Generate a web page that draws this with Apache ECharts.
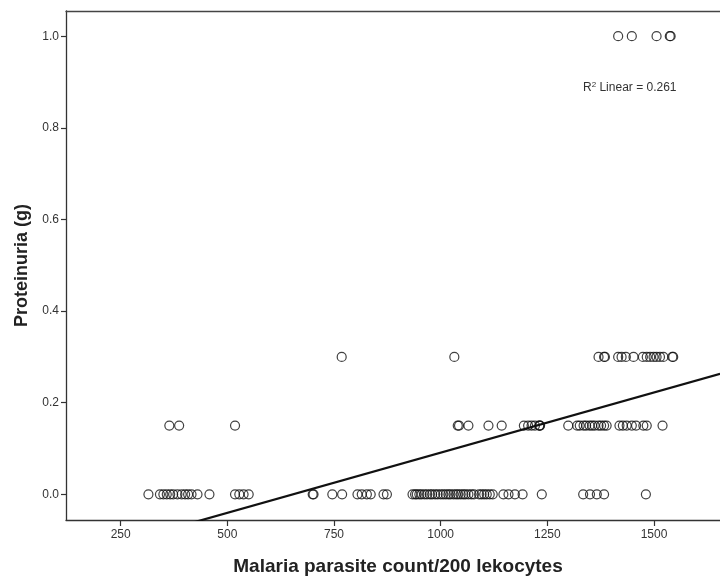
<!DOCTYPE html>
<html>
<head>
<meta charset="utf-8">
<script src="https://cdn.jsdelivr.net/npm/echarts@6/dist/echarts.min.js"></script>
<style>
html,body{margin:0;padding:0;background:#fff;}
#chart{width:720px;height:581px;}
</style>
</head>
<body>
<div id="chart"></div>
<script>
// Observed points, grouped by proteinuria level (g)
var x_p000 = [315, 342, 350, 358, 366, 373, 383, 393, 401, 408, 416, 430, 458,
  518, 528, 538, 550, 700, 702, 746, 769, 805, 815, 827, 836, 866, 874,
  934, 940, 944, 950, 955, 962, 968, 975, 980, 987, 993, 1000, 1006, 1012, 1018, 1023,
  1030, 1036, 1041, 1047, 1053, 1058, 1065, 1072, 1078, 1090, 1096, 1102, 1108, 1115, 1122,
  1147, 1159, 1174, 1192, 1237, 1334, 1350, 1366, 1383, 1481];
var x_p015 = [364, 387, 518, 1040, 1043, 1065, 1112, 1143, 1195, 1205, 1213, 1221, 1231, 1232, 1233,
  1299, 1320, 1326, 1335, 1341, 1349, 1355, 1361, 1370, 1376, 1383, 1389,
  1419, 1427, 1436, 1448, 1458, 1475, 1483, 1520];
var x_p030 = [768, 1032, 1370, 1383, 1385, 1416, 1424, 1434, 1452, 1474, 1483, 1491, 1499, 1506, 1514, 1522, 1543, 1545];
var x_p100 = [1416, 1448, 1506, 1537, 1539];
var levels = [0.0, 0.15, 0.3, 1.0];

// Linear fit line (R² = 0.261) endpoints
var fitX = [121.8, 1655];
var fitY = [-0.1397, 0.2629];

var xTicks = [250, 500, 750, 1000, 1250, 1500];
var yTicks = [0.0, 0.2, 0.4, 0.6, 0.8, 1.0];
var xTitle = 'Malaria parasite count/200 lekocytes';
var yTitle = 'Proteinuria (g)';

var groups = [x_p000, x_p015, x_p030, x_p100];
var pts = [];
groups.forEach(function (g, i) {
  g.forEach(function (x) { pts.push([x, levels[i]]); });
});

var chart = echarts.init(document.getElementById('chart'), null, {renderer: 'canvas'});
var fontFam = '"Liberation Sans", Arial, sans-serif';
var XMIN = 121.8, XMAX = 1654.7;
chart.setOption({
  animation: false,
  backgroundColor: '#fff',
  grid: {left: 66, top: 11, right: 0, bottom: 57, show: false, containLabel: false},
  xAxis: [{
    type: 'value', min: XMIN, max: XMAX,
    axisLine: {show: true, onZero: false, lineStyle: {color: '#333', width: 1.3}},
    axisTick: {show: true, length: 6, lineStyle: {color: '#333', width: 1.2}, customValues: xTicks},
    axisLabel: {color: '#333', fontSize: 12, fontFamily: fontFam, margin: 9, customValues: xTicks,
      formatter: function (v) { return String(v); }},
    splitLine: {show: false},
    name: xTitle, nameLocation: 'middle', nameGap: 37,
    nameTextStyle: {fontSize: 19, fontWeight: 'bold', color: '#222', fontFamily: fontFam, padding: [0, 0, 0, 10]}
  }, {
    type: 'value', position: 'top', min: XMIN, max: XMAX,
    axisLine: {show: true, onZero: false, lineStyle: {color: '#444', width: 1.3}},
    axisTick: {show: false}, axisLabel: {show: false}, splitLine: {show: false}
  }],
  yAxis: {
    type: 'value', min: -0.056, max: 1.055,
    axisLine: {show: true, onZero: false, lineStyle: {color: '#333', width: 1.3}},
    axisTick: {show: true, length: 5, lineStyle: {color: '#333', width: 1.2}, customValues: yTicks},
    axisLabel: {color: '#333', fontSize: 12, fontFamily: fontFam, margin: 7, customValues: yTicks,
      formatter: function (v) { return v.toFixed(1); }},
    splitLine: {show: false},
    name: yTitle, nameLocation: 'middle', nameGap: 27, nameRotate: 90,
    nameTextStyle: {fontSize: 18, fontWeight: 'bold', color: '#222', fontFamily: fontFam}
  },
  series: [
    {
      type: 'scatter', data: pts, symbol: 'circle', symbolSize: 9,
      itemStyle: {color: 'rgba(255,255,255,0)', borderColor: '#111', borderWidth: 1.2}
    },
    {
      type: 'line', data: [[fitX[0], fitY[0]], [fitX[1], fitY[1]]], symbol: 'none', clip: true,
      lineStyle: {color: '#111', width: 2.2}
    }
  ],
  graphic: [{
    type: 'text', left: 583, top: 81,
    style: {
      text: '{a|R}{s|2}{a| Linear = 0.261}',
      rich: {
        a: {fontSize: 12, fontFamily: fontFam, fill: '#333'},
        s: {fontSize: 8, fontFamily: fontFam, fill: '#333', verticalAlign: 'top', padding: [0, 0, 6, 0]}
      }
    }
  }]
});
</script>
</body>
</html>
